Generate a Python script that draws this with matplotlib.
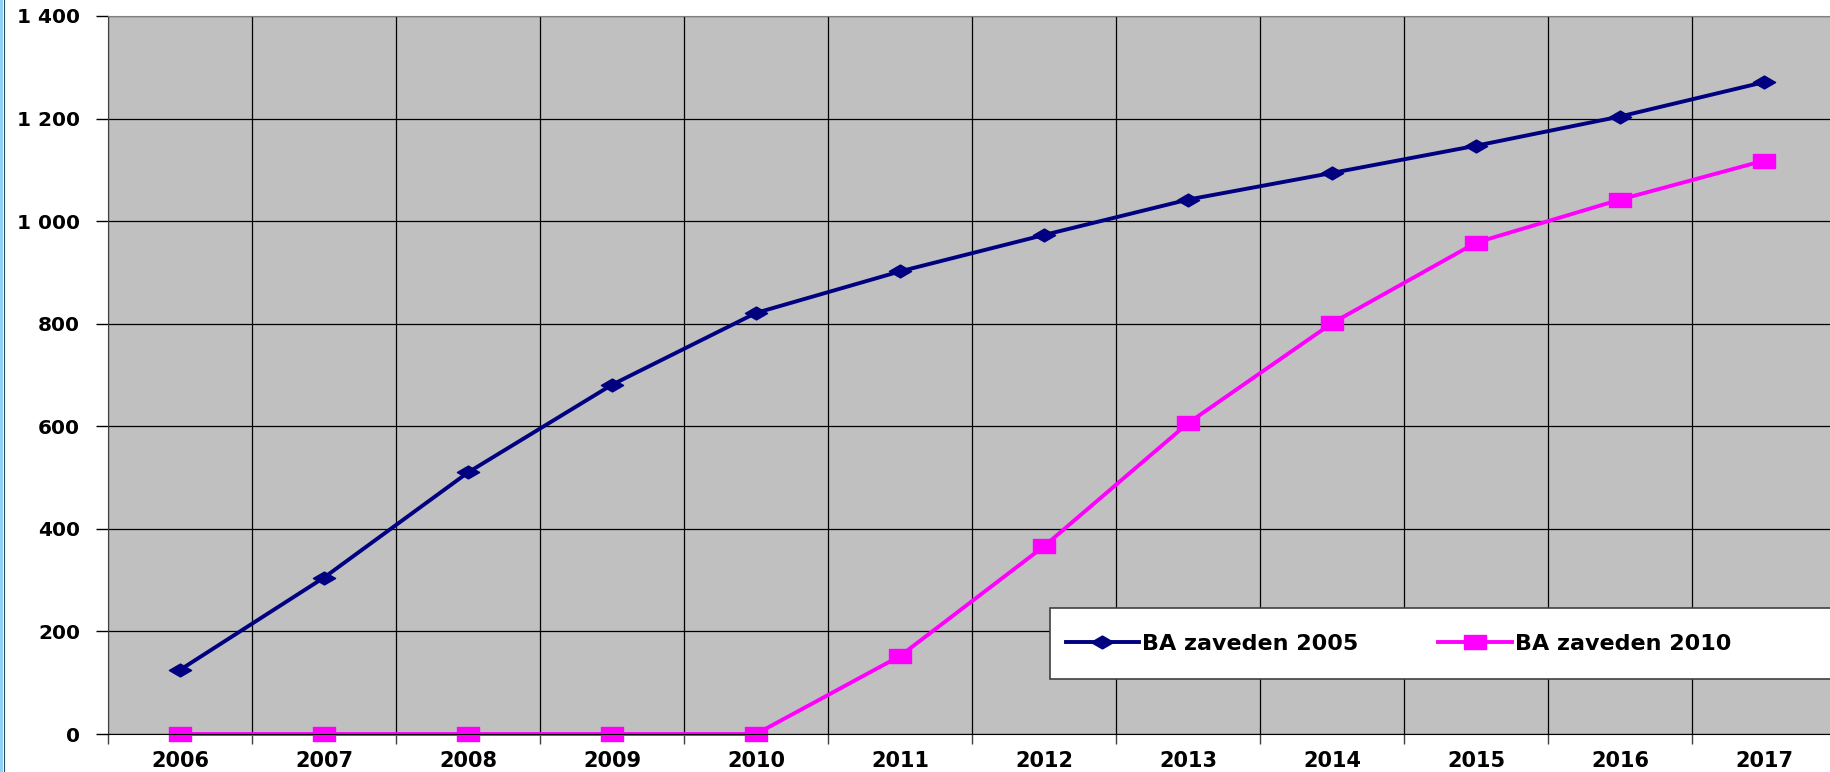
# -*- coding: utf-8 -*-

import matplotlib
matplotlib.use('Agg')
import matplotlib.pyplot as plt
from matplotlib.path import Path
from matplotlib.patches import Rectangle
from matplotlib.lines import Line2D
from matplotlib.ticker import FuncFormatter, FixedLocator

years = ['2006', '2007', '2008', '2009', '2010', '2011',
         '2012', '2013', '2014', '2015', '2016', '2017']
ba_2005 = [125, 305, 510, 681, 821, 902, 973, 1042, 1094, 1147, 1204, 1271]
ba_2010 = [0, 0, 0, 0, 0, 152, 366, 606, 801, 958, 1042, 1118]
labels = ['BA zaveden 2005', 'BA zaveden 2010']

W, H = 1830, 772
plt.rcParams['font.family'] = ['DejaVu Sans']
plt.rcParams['font.weight'] = 'bold'

# wide flat markers (the original picture is stretched sideways)
diamond = Path([(-1, 0), (0, 0.58), (1, 0), (0, -0.58), (-1, 0)],
               [Path.MOVETO, Path.LINETO, Path.LINETO, Path.LINETO, Path.CLOSEPOLY])
square = Path([(-1, -0.6), (1, -0.6), (1, 0.6), (-1, 0.6), (-1, -0.6)],
              [Path.MOVETO, Path.LINETO, Path.LINETO, Path.LINETO, Path.CLOSEPOLY])

fig = plt.figure(figsize=(W / 100, H / 100), dpi=100)
ax = fig.add_axes([108 / W, 38 / H, 1728 / W, 718 / H])
ax.set_facecolor('#C0C0C0')

x = list(range(len(years)))
ax.plot(x, ba_2005, color='#000080', lw=2.8, marker=diamond, ms=16,
        label=labels[0], zorder=4, clip_on=False)
ax.plot(x, ba_2010, color='#FF00FF', lw=2.8, marker=square, ms=16,
        label=labels[1], zorder=4, clip_on=False)

ax.set_xlim(-0.5, len(years) - 0.5)
ax.set_ylim(0, 1400)

# x: labels at category centres, ticks and grid on boundaries
ax.set_xticks(x)
ax.set_xticklabels(years, fontsize=15, fontweight='bold')
ax.tick_params(axis='x', which='major', length=0, pad=12)
ax.xaxis.set_minor_locator(FixedLocator([i - 0.5 for i in range(len(years) + 1)]))
ax.tick_params(axis='x', which='minor', length=7, width=1, color='#404040')
ax.grid(True, axis='x', which='minor', color='black', lw=0.9)

ax.set_yticks(range(0, 1401, 200))
ax.yaxis.set_major_formatter(FuncFormatter(lambda v, p: f'{int(v):,}'.replace(',', ' ')))
ax.tick_params(axis='y', length=9, width=1, pad=11, labelsize=14.5)
for t in ax.get_yticklabels():
    t.set_fontweight('bold')
ax.grid(True, axis='y', which='major', color='black', lw=0.9)
ax.set_axisbelow(True)

ax.spines['top'].set_color('#808080')
ax.spines['left'].set_color('#404040')
ax.spines['bottom'].set_color('black')
ax.spines['bottom'].set_zorder(5)

# legend box runs past the right edge, so draw the frame by hand
box = Rectangle((1050 / W, 1 - 679 / H), (1850 - 1050) / W, 71 / H,
                transform=fig.transFigure, facecolor='white',
                edgecolor='#404040', lw=1.2, zorder=9, clip_on=False)
ax.add_patch(box)
leg = ax.legend(loc='center left', ncol=2,
                bbox_to_anchor=(1050 / W, 1 - 643.5 / H),
                bbox_transform=fig.transFigure, fontsize=16, frameon=False,
                handlelength=3.3, handletextpad=0.15,
                columnspacing=3.6, borderpad=0.7, borderaxespad=0)
for t in leg.get_texts():
    t.set_fontweight('bold')
leg.set_zorder(10)

# light blue edge on the left side of the picture
fig.patches.append(Rectangle((0, 0), 3 / W, 1, transform=fig.transFigure,
                             facecolor='#8FD0F5', edgecolor='none'))
fig.lines.append(Line2D([3.5 / W, 3.5 / W], [0, 1], transform=fig.transFigure,
                        color='#2A4A6A', lw=0.8))

fig.savefig('out.png', dpi=100)
